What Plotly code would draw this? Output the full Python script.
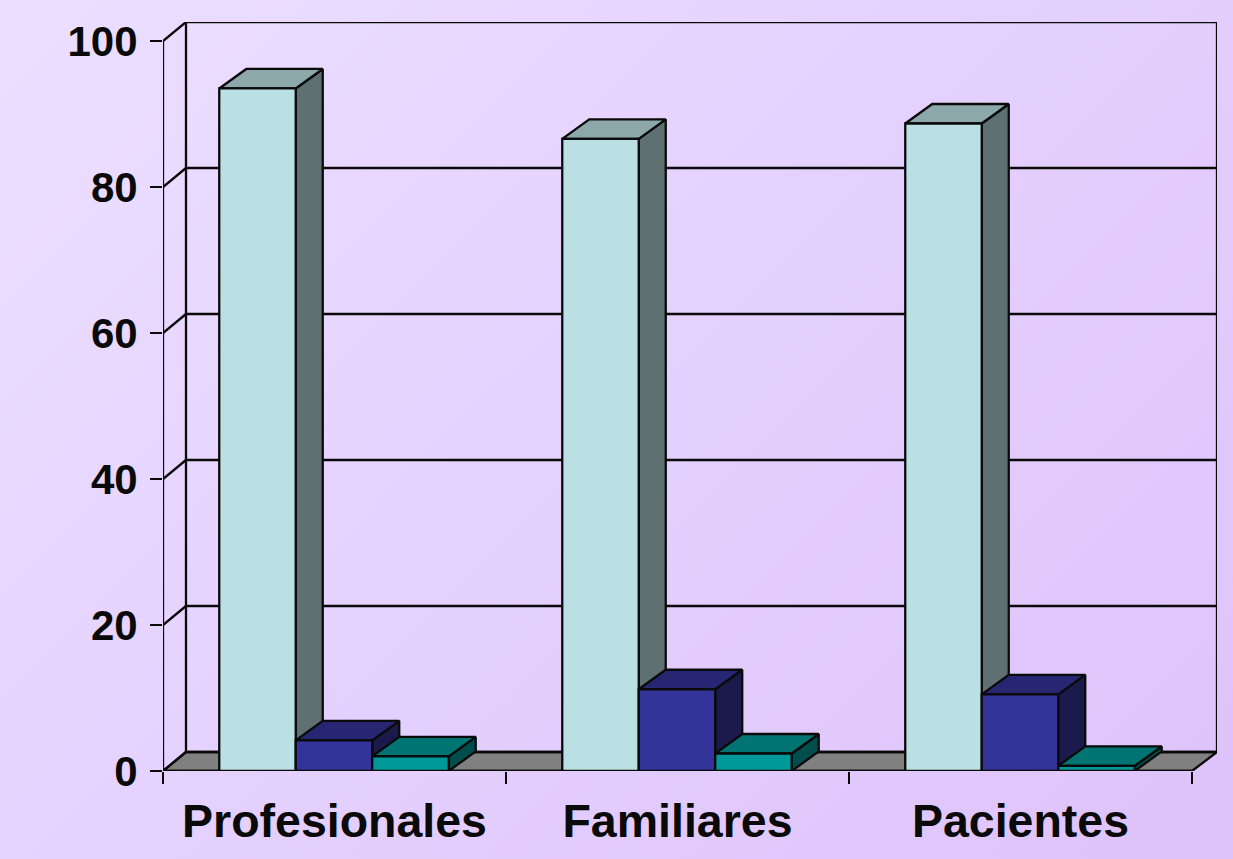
import plotly.graph_objects as go

categories = ["Profesionales", "Familiares", "Pacientes"]
series_a = [93.5, 86.6, 88.7]
series_b = [4.2, 11.2, 10.5]
series_c = [2.0, 2.4, 0.7]
y_ticks = [0, 20, 40, 60, 80, 100]
series_values = [series_a, series_b, series_c]

front_colors = ["#BBE0E3", "#333399", "#009999"]
top_colors = ["#8CA8AA", "#262673", "#007373"]
side_colors = ["#5E7071", "#1A1A4D", "#004D4D"]

BAR_START = 0.164
BAR_W = 0.223
BAR_DX = 27 / 343
BAR_DY = 19.5 / 7.3
DX_LEFT = 23 / 343
DX = 25 / 343
DY = 19 / 7.3
N = len(categories)
LINE = dict(color="#0a0a0a", width=2.3)

fig = go.Figure()


def poly(polys, fill, z, line=LINE):
    xs, ys = [], []
    for p in polys:
        xs += [q[0] for q in p] + [p[0][0], None]
        ys += [q[1] for q in p] + [p[0][1], None]
    fig.add_trace(go.Scatter(x=xs, y=ys, mode="lines", fill="toself", fillcolor=fill,
                             line=line, cliponaxis=False, hoverinfo="skip",
                             showlegend=False, zorder=z))


def lines(segs, z, line=LINE):
    xs, ys = [], []
    for a, b in segs:
        xs += [a[0], b[0], None]
        ys += [a[1], b[1], None]
    fig.add_trace(go.Scatter(x=xs, y=ys, mode="lines", line=line, cliponaxis=False,
                             hoverinfo="skip", showlegend=False, zorder=z))


# walls and floor
poly([[(0, 0), (N, 0), (N + DX, DY), (DX_LEFT, DY)]], "#808080", 0)
lines([((DX_LEFT, v + DY), (N + DX, v + DY)) for v in y_ticks]
      + [((0, v), (DX_LEFT, v + DY)) for v in y_ticks]
      + [((DX_LEFT, DY), (DX_LEFT, y_ticks[-1] + DY)), ((N + DX, DY), (N + DX, y_ticks[-1] + DY)),
         ((0, 0), (0, y_ticks[-1])), ((0, 0), (N, 0))], 0)

# bars, drawn back to front across the series
z = 1
for j, vals in enumerate(series_values):
    lefts = [i + BAR_START + j * BAR_W for i in range(N)]
    sides, tops = [], []
    for x0, v in zip(lefts, vals):
        x1 = x0 + BAR_W
        sides.append([(x1, 0), (x1 + BAR_DX, BAR_DY), (x1 + BAR_DX, v + BAR_DY), (x1, v)])
        tops.append([(x0, v), (x1, v), (x1 + BAR_DX, v + BAR_DY), (x0 + BAR_DX, v + BAR_DY)])
    poly(sides, side_colors[j], z)
    poly(tops, top_colors[j], z)
    fig.add_trace(go.Bar(x=[l + BAR_W / 2 for l in lefts], y=vals, width=BAR_W,
                         marker=dict(color=front_colors[j], line=LINE),
                         cliponaxis=False, hoverinfo="skip", showlegend=False, zorder=z + 1))
    z += 2

fig.update_layout(
    width=1233, height=859, autosize=False,
    margin=dict(l=163, r=16, t=22, b=88, pad=0),
    paper_bgcolor="rgba(0,0,0,0)", plot_bgcolor="rgba(0,0,0,0)",
    barmode="overlay",
    font=dict(family="Liberation Sans", color="#0a0a0a"),
    xaxis=dict(range=[0, N + DX], tickmode="array",
               tickvals=[i + 0.5 for i in range(N)], ticktext=categories,
               ticks="", showgrid=False, zeroline=False, showline=False,
               tickfont=dict(size=46.5, weight=700), ticklabelstandoff=18,
               minor=dict(tickmode="array", tickvals=list(range(N + 1)), ticks="outside",
                          ticklen=12, tickwidth=2.3, tickcolor="#0a0a0a", showgrid=False)),
    yaxis=dict(range=[0, y_ticks[-1] + DY], tickmode="array", tickvals=y_ticks,
               ticks="outside", ticklen=12, tickwidth=2.3, tickcolor="#0a0a0a",
               showgrid=False, zeroline=False, showline=False,
               tickfont=dict(size=42, weight=700), ticklabelstandoff=4),
)

fig.write_html("out.html", config={"displayModeBar": False}, post_script=(
    "document.body.style.margin='0';document.body.style.overflow='hidden';"
    "document.documentElement.style.background='linear-gradient(135deg,#ECDFFF 0%,#E5D2FF 45%,#DEC2FA 100%)';"
    "document.documentElement.style.height='100%';"
))
